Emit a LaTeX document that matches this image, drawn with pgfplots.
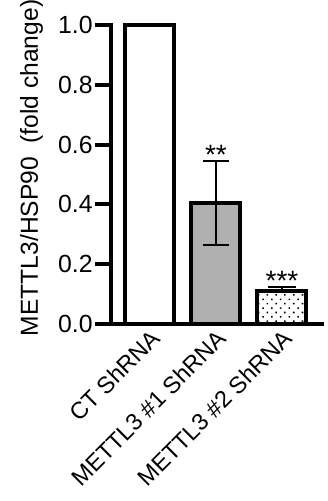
\documentclass[border=0pt]{standalone}
\usepackage{pgfplots}
\pgfplotsset{compat=1.18}
\usepackage{fontspec}
\setmainfont{Liberation Sans}
\usetikzlibrary{patterns.meta}
\definecolor{bargray}{RGB}{176,176,176}
\begin{document}
\begin{tikzpicture}
\begin{axis}[
  name=ax,
  scale only axis, width=105.5pt, height=149.5pt,
  xmin=-0.59, xmax=2.606, ymin=0, ymax=1,
  axis x line*=bottom, axis y line*=left,
  axis line style={line width=2.2pt, line cap=rect},
  ytick={0,0.2,0.4,0.6,0.8,1.0},
  yticklabel style={/pgf/number format/fixed, /pgf/number format/fixed zerofill, /pgf/number format/precision=1, /pgf/number format/assume math mode=true},
  y tick label style={font=\fontsize{12.4}{14}\selectfont, inner sep=1pt},
  ytick style={line width=2pt, black},
  tick align=outside,
  major tick length=8pt,
  xtick={0,1,2},
  xticklabels={CT ShRNA, METTL3 \#1 ShRNA, METTL3 \#2 ShRNA},
  xtick style={draw=none},
  x tick label style={yshift=6pt, rotate=45, anchor=north east, inner sep=0pt, font=\fontsize{11.75}{14}\selectfont},
  ylabel={METTL3/HSP90~ (fold change)},
  ylabel style={font=\fontsize{12.3}{14}\selectfont, at={(axis description cs:-0.346,0.522)}, anchor=base},
  clip=false,
]
\addplot[ybar, bar width=24.5pt, draw=black, line width=2pt, fill=white] coordinates {(0,1)};
\addplot[ybar, bar width=24.5pt, draw=black, line width=2pt, fill=bargray,
  error bars/.cd, y dir=both, y explicit,
  error bar style={line width=0.6pt, black},
  error mark options={rotate=90, line width=0.8pt, mark size=6.5pt, black}]
  coordinates {(1,0.405) +- (0,0.14)};
\addplot[ybar, bar width=24.5pt, draw=black, line width=2pt, fill=white,
  postaction={pattern={Dots[distance=3.1pt, angle=45, radius=0.55pt]}},
  error bars/.cd, y dir=plus, y explicit,
  error bar style={line width=0.6pt, black},
  error mark options={rotate=90, line width=0.8pt, mark size=7pt, black}]
  coordinates {(2,0.11) +- (0,0.013)};
\node[anchor=base, font=\fontsize{14}{15}\selectfont, inner sep=0pt] at (axis cs:1,0.545) [yshift=-1.5pt] {**};
\node[anchor=base, font=\fontsize{14}{15}\selectfont, inner sep=0pt] at (axis cs:2,0.123) [yshift=-1.5pt] {***};
\end{axis}
\pgfresetboundingbox
\path ([xshift=-55.5pt,yshift=-88.5pt]ax.south west) rectangle ([xshift=2.5pt,yshift=12.5pt]ax.north east);
\end{tikzpicture}
\end{document}
